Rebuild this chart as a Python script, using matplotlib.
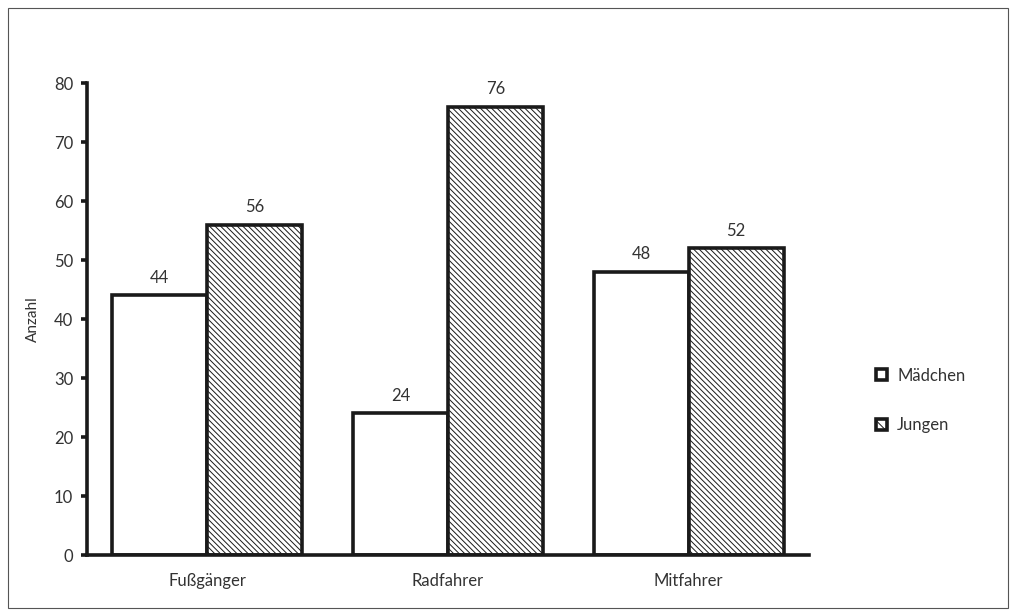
import numpy as np
import matplotlib.pyplot as plt
from matplotlib.patches import Rectangle

# data
categories = ["Fußgänger", "Radfahrer", "Mitfahrer"]
maedchen = [44, 24, 48]
jungen = [56, 76, 52]
series_names = ["Mädchen", "Jungen"]
yticks = [0, 10, 20, 30, 40, 50, 60, 70, 80]

plt.rcParams['font.family'] = ['Lato', 'DejaVu Sans']
plt.rcParams['hatch.linewidth'] = 0.7
plt.rcParams['hatch.color'] = '#333333'

fig = plt.figure(figsize=(10.17, 6.16), dpi=100)
ax = fig.add_axes([0.0855, 0.099, 0.710, 0.766])

x = np.arange(len(categories))
w = 0.395
b1 = ax.bar(x - w / 2, maedchen, w, color='white', edgecolor='#1a1a1a', linewidth=2.6)
b2 = ax.bar(x + w / 2, jungen, w, color='white', edgecolor='#1a1a1a', linewidth=2.6,
            hatch='\\' * 6)

for bars, vals in [(b1, maedchen), (b2, jungen)]:
    for r, v in zip(bars, vals):
        ax.annotate(str(v), (r.get_x() + r.get_width() / 2, v), xytext=(0, 7),
                    textcoords='offset points', ha='center', va='bottom',
                    fontsize=12, color='#333333')

ax.set_xlim(-0.5, 2.5)
ax.set_ylim(0, 80)
ax.set_yticks(yticks)
ax.set_xticks(x)
ax.set_xticklabels(categories)
ax.spines['top'].set_visible(False)
ax.spines['right'].set_visible(False)
for s in ['left', 'bottom']:
    ax.spines[s].set_linewidth(2.6)
    ax.spines[s].set_color('#1a1a1a')
ax.tick_params(axis='y', length=4, width=2.6, labelsize=12, colors='#1a1a1a',
               labelcolor='#333333', pad=6)
ax.tick_params(axis='x', length=0, labelsize=12, labelcolor='#333333', pad=13)
ax.set_ylabel("Anzahl", fontsize=11, color='#333333', labelpad=10)

handles = [Rectangle((0, 0), 1, 1, facecolor='white', edgecolor='#1a1a1a', linewidth=2.6),
           Rectangle((0, 0), 1, 1, facecolor='white', edgecolor='#1a1a1a', linewidth=2.6,
                     hatch='\\\\\\')]
fig.legend(handles, series_names, loc='center left', bbox_to_anchor=(0.847, 0.35),
           frameon=False, fontsize=12, handlelength=0.65, handleheight=0.65,
           handletextpad=0.6, labelspacing=2.0, labelcolor='#333333')

# outer frame
fig.patches.append(Rectangle((8 / 1017, 8 / 616), 1000 / 1017, 600 / 616,
                             transform=fig.transFigure, fill=False,
                             edgecolor='#555555', linewidth=0.8))

fig.savefig("out.png", dpi=100)
